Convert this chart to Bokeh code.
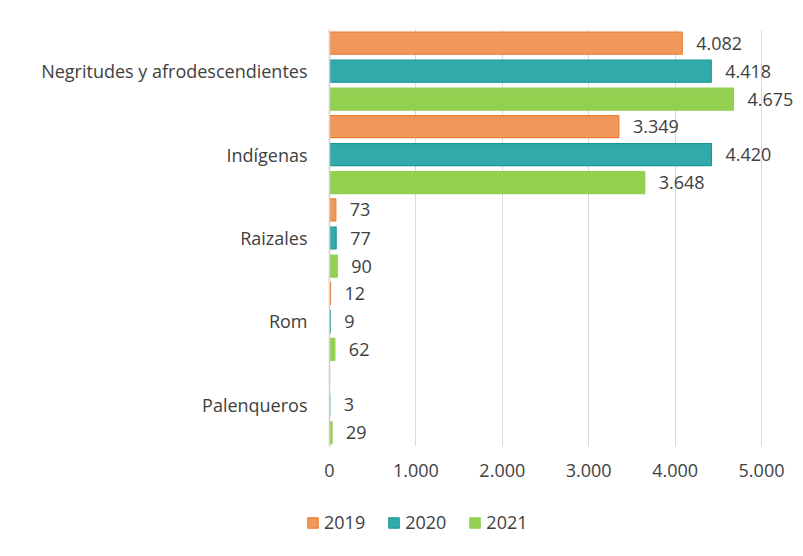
from bokeh.plotting import figure
from bokeh.models import (ColumnDataSource, FactorRange, LabelSet, Legend, LegendItem,
                          FixedTicker, Range1d)
from bokeh.core.properties import value
from bokeh.transform import dodge
from bokeh.embed import file_html
from bokeh.resources import INLINE

categories = ["Negritudes y afrodescendientes", "Indígenas", "Raizales", "Rom", "Palenqueros"]
years = ["2019", "2020", "2021"]
v2019 = [4082, 3349, 73, 12, None]
v2020 = [4418, 4420, 77, 9, 3]
v2021 = [4675, 3648, 90, 62, 29]
tick_values = [0, 1000, 2000, 3000, 4000, 5000]
tick_labels = ["0", "1.000", "2.000", "3.000", "4.000", "5.000"]

fills = ["#F0985C", "#30AAAA", "#92D050"]
lines = ["#ED7D31", "#1A9898", "#92D050"]
FONT = "Open Sans"
TXT = "#404040"


def fmt(v):
    return "" if not v else f"{v:,}".replace(",", ".")


src = ColumnDataSource(dict(
    cat=categories,
    v2019=[0 if v is None else v for v in v2019],
    v2020=v2020, v2021=v2021,
    l2019=[fmt(v) for v in v2019],
    l2020=[fmt(v) for v in v2020],
    l2021=[fmt(v) for v in v2021],
))

p = figure(width=795, height=490,
           y_range=FactorRange(factors=categories[::-1], range_padding=0),
           x_range=Range1d(0, 5393),
           output_backend="svg", toolbar_location=None,
           min_border_left=329, min_border_right=0, min_border_top=29, min_border_bottom=44)

p.outline_line_color = None
p.background_fill_color = "white"
p.border_fill_color = "white"

offsets = [0.336, 0.0, -0.336]
renderers = []
for yr, off, fc, lc in zip(years, offsets, fills, lines):
    r = p.hbar(y=dodge("cat", off, range=p.y_range), left=0, right="v" + yr, height=0.264,
               fill_color=fc, line_color=lc, line_width=1.2, source=src)
    renderers.append(r)
    lbl = LabelSet(x="v" + yr, y=dodge("cat", off, range=p.y_range), text="l" + yr,
                   x_offset=14, source=src, text_font=value(FONT), text_font_size="18px",
                   text_color=TXT, text_baseline="middle", text_align="left")
    p.add_layout(lbl)

# axes
p.xaxis.ticker = FixedTicker(ticks=tick_values)
p.xaxis.major_label_overrides = {t: l for t, l in zip(tick_values, tick_labels)}
p.xaxis.axis_line_color = None
p.xaxis.major_tick_line_color = None
p.xaxis.minor_tick_line_color = None
p.xaxis.major_label_standoff = 11
p.xaxis.major_label_text_font = FONT
p.xaxis.major_label_text_font_size = "18px"
p.xaxis.major_label_text_color = TXT

p.yaxis.axis_line_color = "#D0D0D0"
p.yaxis.axis_line_width = 1.5
p.yaxis.major_tick_line_color = None
p.yaxis.minor_tick_line_color = None
p.yaxis.major_label_standoff = 16
p.yaxis.major_label_text_font = FONT
p.yaxis.major_label_text_font_size = "18px"
p.yaxis.major_label_text_color = TXT

p.xgrid.grid_line_color = "#D9D9D9"
p.xgrid.grid_line_width = 1
p.ygrid.grid_line_color = None

# legend strip below the chart (separate root, so frames are not aligned)
p2 = figure(width=795, height=58, x_range=Range1d(0, 1), y_range=Range1d(0, 1),
            x_axis_type=None, y_axis_type=None,
            output_backend="svg", toolbar_location=None,
            min_border_left=0, min_border_right=0, min_border_top=0, min_border_bottom=0)
p2.grid.grid_line_color = None
p2.outline_line_color = None
# off-screen proxy glyphs that only provide the legend swatches
proxy = ColumnDataSource(dict(y=[-5], left=[-3], right=[-2]))
leg_r = []
for fc, lc in zip(fills, lines):
    leg_r.append(p2.hbar(y="y", right="right", left="left", height=0.5, fill_color=fc,
                         line_color=lc, line_width=1.2, source=proxy))
legend = Legend(items=[LegendItem(label=yr, renderers=[r]) for yr, r in zip(years, leg_r)],
                orientation="horizontal", location=(306, 14),
                glyph_width=13, glyph_height=13, label_standoff=5, spacing=22,
                padding=0, margin=0, border_line_color=None, background_fill_alpha=0,
                label_text_font=FONT, label_text_font_size="18px", label_text_color=TXT)
p2.add_layout(legend)

open("out.html", "w").write(file_html([p, p2], INLINE))
